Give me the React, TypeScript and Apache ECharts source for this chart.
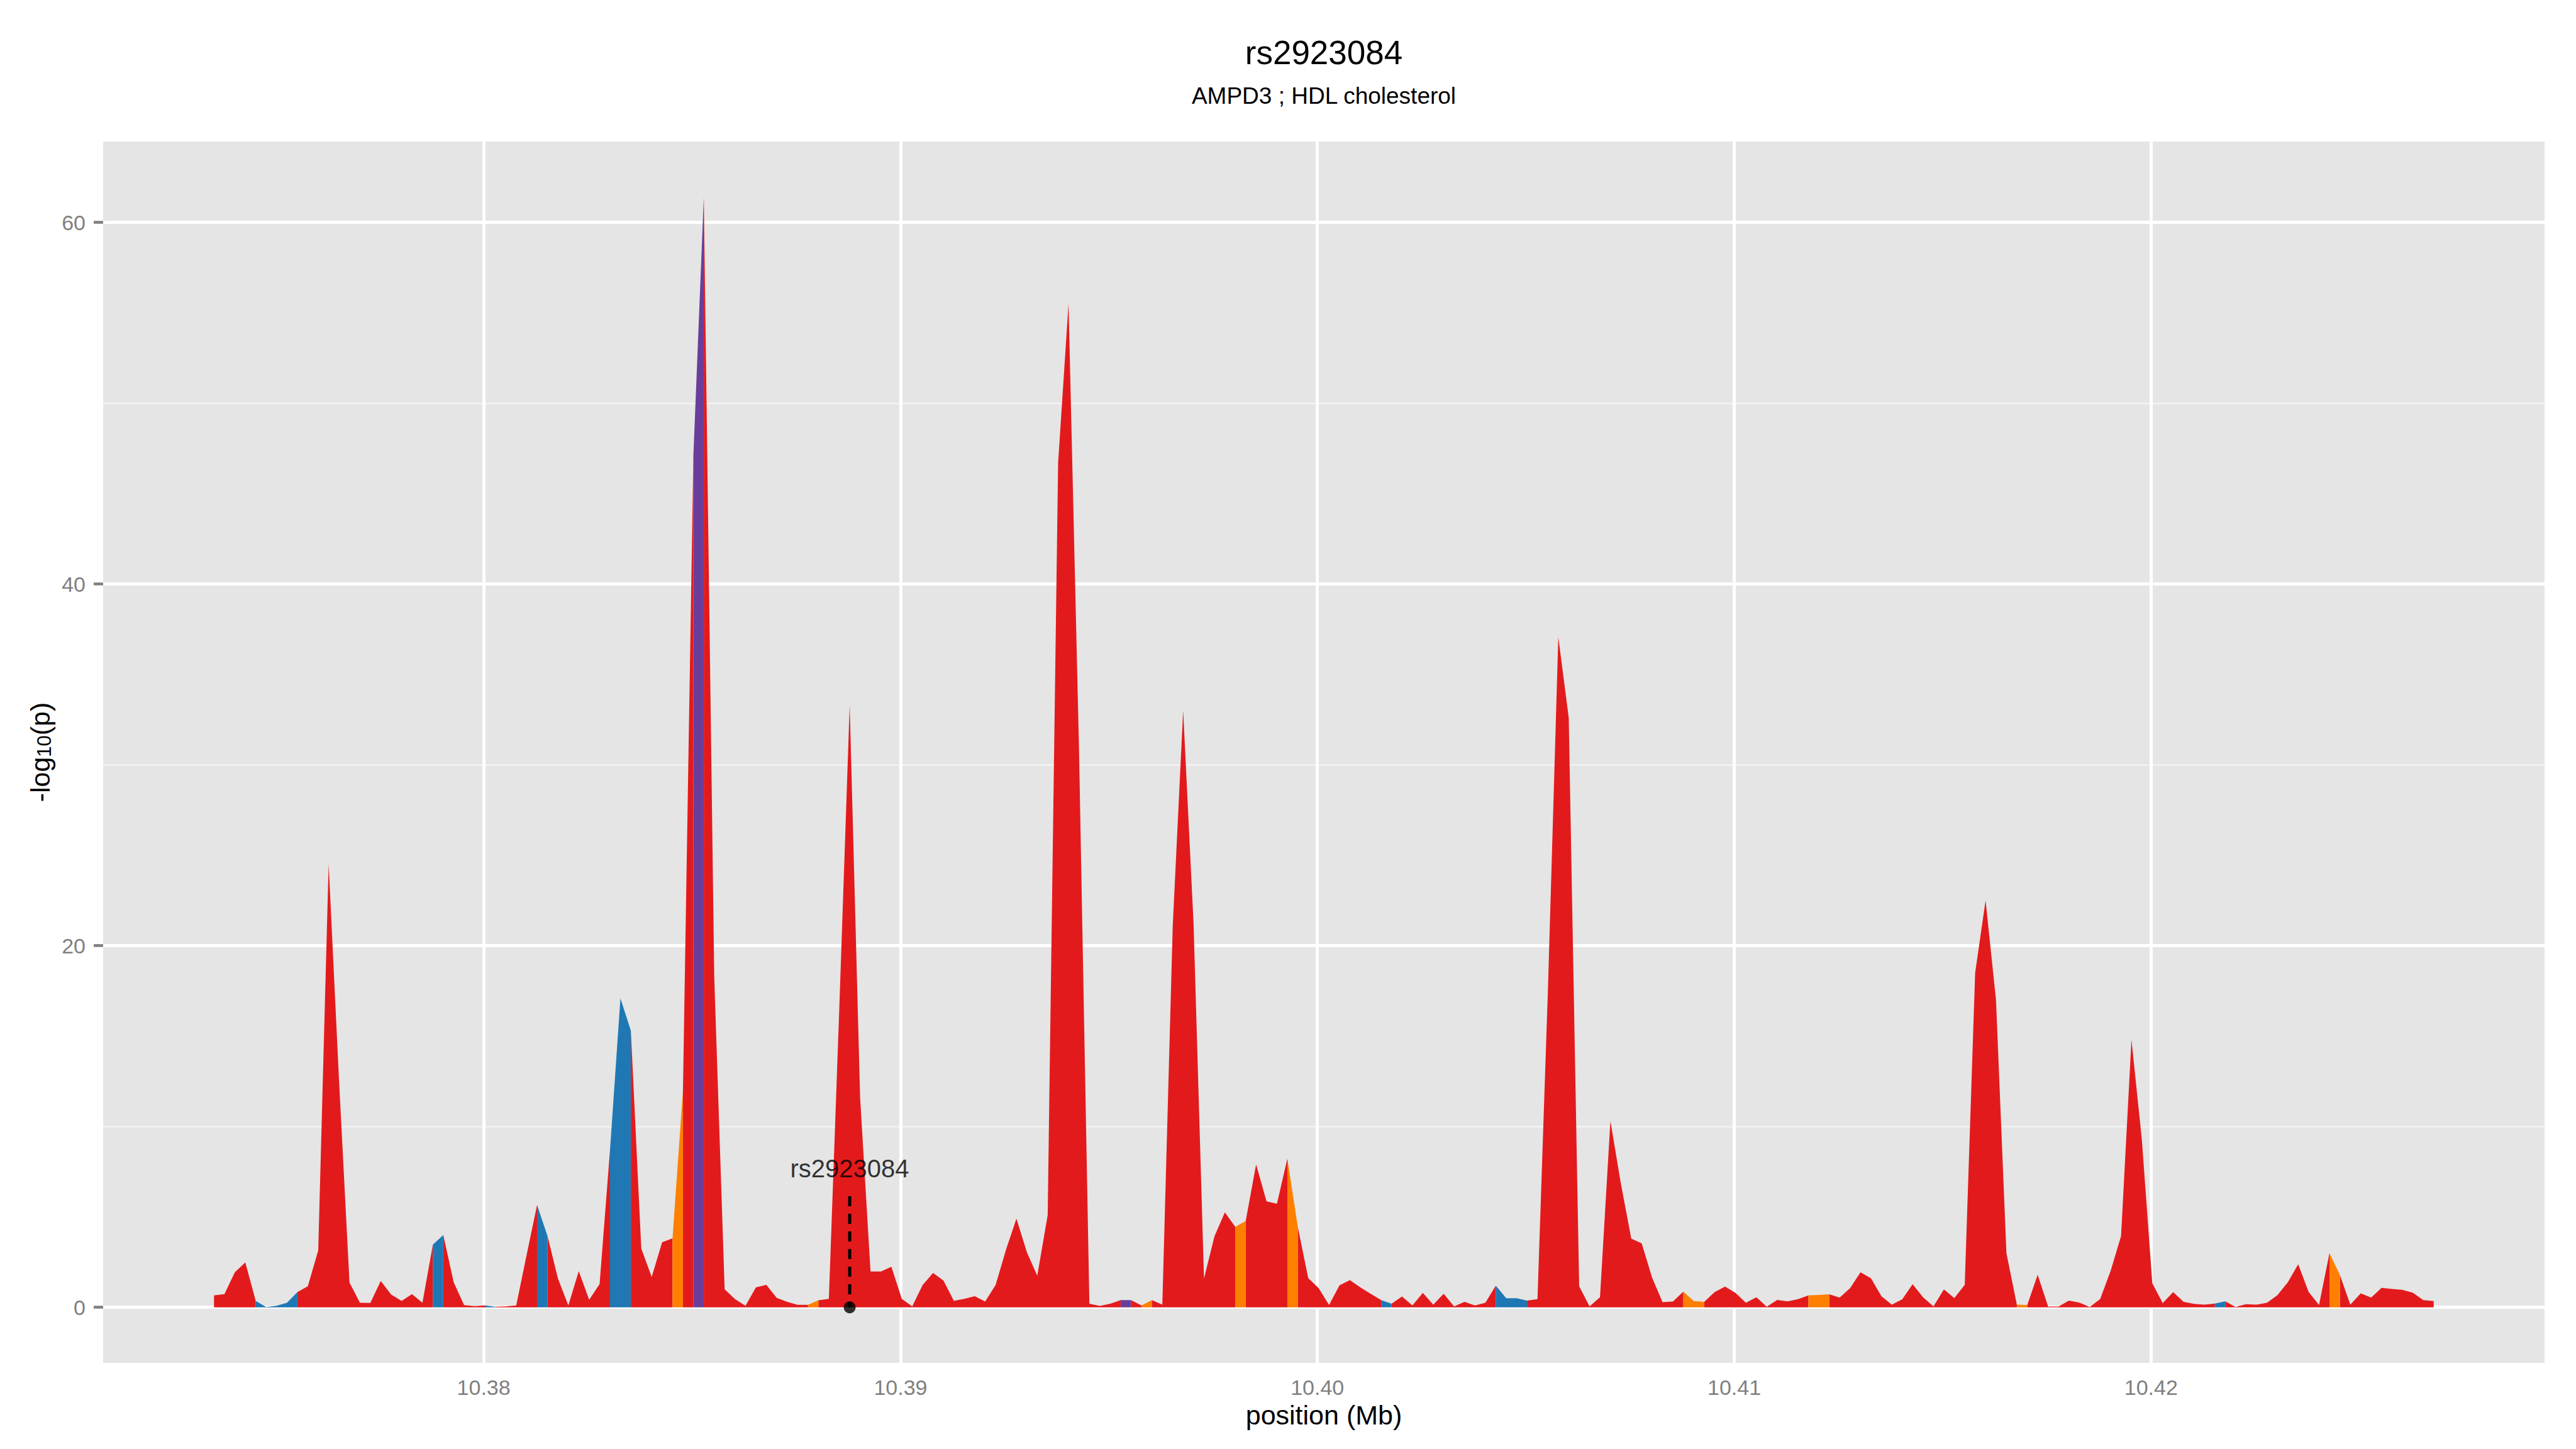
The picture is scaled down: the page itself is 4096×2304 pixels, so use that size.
import React, { useEffect, useRef } from 'react';
import * as echarts from 'echarts';

// ---------- data ----------
const positions = [
  10.37353, 10.37378, 10.37403, 10.37428, 10.37453, 10.37478, 10.37503, 10.37528,
  10.37553, 10.37578, 10.37603, 10.37628, 10.37653, 10.37678, 10.37703, 10.37728,
  10.37753, 10.37778, 10.37803, 10.37828, 10.37853, 10.37878, 10.37903, 10.37928,
  10.37953, 10.37978, 10.38003, 10.38028, 10.38053, 10.38078, 10.38103, 10.38128,
  10.38153, 10.38178, 10.38203, 10.38228, 10.38253, 10.38278, 10.38303, 10.38328,
  10.38353, 10.38378, 10.38403, 10.38428, 10.38453, 10.38478, 10.38503, 10.38528,
  10.38553, 10.38578, 10.38603, 10.38628, 10.38653, 10.38678, 10.38703, 10.38728,
  10.38753, 10.38778, 10.38803, 10.38828, 10.38853, 10.38878, 10.38903, 10.38928,
  10.38953, 10.38978, 10.39003, 10.39028, 10.39053, 10.39078, 10.39103, 10.39128,
  10.39153, 10.39178, 10.39203, 10.39228, 10.39253, 10.39278, 10.39303, 10.39328,
  10.39353, 10.39378, 10.39403, 10.39428, 10.39453, 10.39478, 10.39503, 10.39528,
  10.39553, 10.39578, 10.39603, 10.39628, 10.39653, 10.39678, 10.39703, 10.39728,
  10.39753, 10.39778, 10.39803, 10.39828, 10.39853, 10.39878, 10.39903, 10.39928,
  10.39953, 10.39978, 10.40003, 10.40028, 10.40053, 10.40078, 10.40103, 10.40128,
  10.40153, 10.40178, 10.40203, 10.40228, 10.40253, 10.40278, 10.40303, 10.40328,
  10.40353, 10.40378, 10.40403, 10.40428, 10.40453, 10.40478, 10.40503, 10.40528,
  10.40553, 10.40578, 10.40603, 10.40628, 10.40653, 10.40678, 10.40703, 10.40728,
  10.40753, 10.40778, 10.40803, 10.40828, 10.40853, 10.40878, 10.40903, 10.40928,
  10.40953, 10.40978, 10.41003, 10.41028, 10.41053, 10.41078, 10.41103, 10.41128,
  10.41153, 10.41178, 10.41203, 10.41228, 10.41253, 10.41278, 10.41303, 10.41328,
  10.41353, 10.41378, 10.41403, 10.41428, 10.41453, 10.41478, 10.41503, 10.41528,
  10.41553, 10.41578, 10.41603, 10.41628, 10.41653, 10.41678, 10.41703, 10.41728,
  10.41753, 10.41778, 10.41803, 10.41828, 10.41853, 10.41878, 10.41903, 10.41928,
  10.41953, 10.41978, 10.42003, 10.42028, 10.42053, 10.42078, 10.42103, 10.42128,
  10.42153, 10.42178, 10.42203, 10.42228, 10.42253, 10.42278, 10.42303, 10.42328,
  10.42353, 10.42378, 10.42403, 10.42428, 10.42453, 10.42478, 10.42503, 10.42528,
  10.42553, 10.42578, 10.42603, 10.42628, 10.42653, 10.42678,
];

const negLog10P = [
  0.66, 0.73, 1.94, 2.49, 0.36, 0.02, 0.09, 0.25, 0.84, 1.16,
  3.15, 24.5, 12.5, 1.37, 0.25, 0.24, 1.46, 0.7, 0.36, 0.73,
  0.25, 3.47, 4.0, 1.38, 0.12, 0.07, 0.1, 0.03, 0.05, 0.1,
  2.9, 5.66, 3.95, 1.6, 0.1, 2.0, 0.42, 1.29, 8.7, 17.08,
  15.3, 3.25, 1.68, 3.6, 3.82, 12.0, 47.1, 61.4, 18.3, 1.0,
  0.45, 0.09, 1.1, 1.24, 0.52, 0.3, 0.14, 0.14, 0.39, 0.47,
  16.5, 33.3, 11.6, 1.98, 1.98, 2.24, 0.47, 0.05, 1.23, 1.9,
  1.48, 0.36, 0.47, 0.62, 0.32, 1.23, 3.19, 4.9, 3.05, 1.75,
  5.1, 46.7, 55.5, 31.0, 0.2, 0.08, 0.2, 0.4, 0.4, 0.1,
  0.4, 0.15, 21.1, 33.0, 21.2, 1.59, 3.92, 5.25, 4.45, 4.77,
  7.9, 5.86, 5.73, 8.22, 4.45, 1.62, 1.06, 0.13, 1.22, 1.5,
  1.1, 0.75, 0.4, 0.2, 0.6, 0.1, 0.8, 0.15, 0.75, 0.05,
  0.3, 0.1, 0.25, 1.2, 0.5, 0.5, 0.37, 0.45, 17.5, 37.06,
  32.6, 1.16, 0.05, 0.56, 10.3, 6.85, 3.8, 3.54, 1.64, 0.29,
  0.32, 0.87, 0.35, 0.3, 0.84, 1.15, 0.8, 0.25, 0.56, 0.03,
  0.41, 0.33, 0.45, 0.66, 0.69, 0.72, 0.54, 1.06, 1.94, 1.61,
  0.62, 0.15, 0.44, 1.28, 0.56, 0.05, 0.99, 0.51, 1.24, 18.5,
  22.5, 17.0, 3.0, 0.15, 0.13, 1.8, 0.04, 0.04, 0.37, 0.26,
  0.02, 0.46, 2.02, 3.94, 14.8, 9.25, 1.33, 0.23, 0.84, 0.3,
  0.19, 0.15, 0.21, 0.33, 0.02, 0.17, 0.15, 0.25, 0.67, 1.38,
  2.38, 0.85, 0.13, 3.0, 1.79, 0.15, 0.77, 0.54, 1.08, 1.02,
  0.96, 0.81, 0.4, 0.35,
];

// runs of consecutive points [first, last] whose segments take a non-default colour
const blueRuns = [[4, 8], [21, 22], [26, 27], [31, 32], [38, 40], [112, 113], [123, 126], [192, 193]];
const orangeRuns = [[44, 45], [57, 58], [89, 90], [98, 99], [103, 104], [141, 143], [153, 155], [173, 174], [203, 204]];
const purpleRuns = [[46, 47], [87, 88]];

const xTicks = [10.38, 10.39, 10.4, 10.41, 10.42];
const xMinorGrid = [10.375, 10.385, 10.395, 10.405, 10.415, 10.425];
const yTicks = [0, 20, 40, 60];
const yMinorGrid = [10, 30, 50];
const xRange = [10.37087, 10.42944];
const yRange = [-3.07, 64.47];

const snpName = 'rs2923084';
const snpPos = 10.38878;
const snpLabelY = 7.66;
const snpLineTop = 6.15;

const titleText = 'rs2923084';
const subtitleText = 'AMPD3 ; HDL cholesterol';

// ---------- styling ----------
const FONT = '"Liberation Sans", Arial, Helvetica, sans-serif';
const COLORS: Record<string, string> = {
  red: '#E31A1C',
  blue: '#1F78B4',
  orange: '#FF7F00',
  purple: '#6A3D9A',
};

function segmentColours(): string[] {
  const seg = new Array(positions.length - 1).fill('red');
  const apply = (runs: number[][], c: string) => {
    for (const [a, b] of runs) for (let s = a; s < b; s++) seg[s] = c;
  };
  apply(blueRuns, 'blue');
  apply(orangeRuns, 'orange');
  apply(purpleRuns, 'purple');
  return seg;
}

function buildData(seg: string[], colour: string) {
  const out: any[] = [];
  let s = 0;
  while (s < seg.length) {
    if (seg[s] !== colour) { s++; continue; }
    let e = s;
    while (e < seg.length && seg[e] === colour) e++;
    if (out.length) out.push([positions[s], '-']);
    for (let i = s; i <= e; i++) out.push([positions[i], negLog10P[i]]);
    s = e;
  }
  return out;
}

function buildOption() {
  const seg = segmentColours();
  const major = { color: '#FFFFFF', width: 5, type: 'solid' };
  const minor = { color: '#F2F2F2', width: 2.5, type: 'solid' };
  const gridLines = [
    ...xMinorGrid.map((v) => ({ xAxis: v, lineStyle: minor })),
    ...yMinorGrid.map((v) => ({ yAxis: v, lineStyle: minor })),
    ...xTicks.map((v) => ({ xAxis: v, lineStyle: major })),
    ...yTicks.map((v) => ({ yAxis: v, lineStyle: major })),
  ];

  const areaSeries = ['red', 'blue', 'orange', 'purple'].map((c) => ({
    type: 'line',
    name: c,
    data: buildData(seg, c),
    showSymbol: false,
    symbol: 'none',
    connectNulls: false,
    lineStyle: { width: 0, color: COLORS[c] },
    itemStyle: { color: COLORS[c] },
    areaStyle: { color: COLORS[c], opacity: 1 },
    z: c === 'red' ? 2 : 3,
    silent: true,
  }));

  return {
    animation: false,
    backgroundColor: '#FFFFFF',
    textStyle: { fontFamily: FONT },
    grid: {
      left: 164, right: 50, top: 225, bottom: 137,
      show: true, backgroundColor: '#E5E5E5', borderWidth: 0,
      containLabel: false,
    },
    graphic: [
      {
        type: 'text', x: 2105, y: 83,
        style: { text: titleText, fontSize: 53, fontFamily: FONT, fill: '#000', align: 'center', verticalAlign: 'middle' },
      },
      {
        type: 'text', x: 2105, y: 152,
        style: { text: subtitleText, fontSize: 37, fontFamily: FONT, fill: '#000', align: 'center', verticalAlign: 'middle' },
      },
    ],
    xAxis: {
      type: 'value',
      min: xRange[0], max: xRange[1],
      axisLine: { show: false },
      splitLine: { show: false },
      axisTick: { show: true, length: 15, customValues: xTicks, lineStyle: { color: '#7F7F7F', width: 4.5 } },
      axisLabel: {
        customValues: xTicks, margin: 22, fontSize: 34, color: '#7F7F7F', fontFamily: FONT,
        formatter: (v: number) => v.toFixed(2),
      },
      name: 'position (Mb)',
      nameLocation: 'middle',
      nameGap: 61,
      nameTextStyle: { fontSize: 43, color: '#000', fontFamily: FONT },
    },
    yAxis: {
      type: 'value',
      min: yRange[0], max: yRange[1],
      axisLine: { show: false },
      splitLine: { show: false },
      axisTick: { show: true, length: 15, customValues: yTicks, lineStyle: { color: '#7F7F7F', width: 4.5 } },
      axisLabel: { customValues: yTicks, margin: 28, fontSize: 34, color: '#7F7F7F', fontFamily: FONT },
      name: '{a|-log}{b|10}{a|(p)}',
      nameLocation: 'middle',
      nameGap: 78,
      nameRotate: 90,
      nameTextStyle: {
        color: '#000', fontFamily: FONT, fontSize: 43,
        rich: {
          a: { fontSize: 43, fontFamily: FONT, color: '#000' },
          b: { fontSize: 31, fontFamily: FONT, color: '#000', padding: [14, 0, 0, 0] },
        },
      },
    },
    series: [
      {
        type: 'line',
        name: 'grid',
        data: [],
        symbol: 'none',
        z: 1,
        silent: true,
        markLine: {
          silent: true,
          symbol: ['none', 'none'],
          label: { show: false },
          z: 1,
          animation: false,
          data: gridLines,
        },
      },
      ...areaSeries,
      {
        type: 'line',
        name: 'snpLine',
        data: [[snpPos, snpLineTop], [snpPos, 0]],
        symbol: 'none',
        lineStyle: { color: '#000', width: 5, type: [16, 12] },
        z: 10,
        silent: true,
      },
      {
        type: 'scatter',
        name: 'snpPoint',
        data: [[snpPos, 0]],
        symbol: 'circle',
        symbolSize: 19,
        itemStyle: { color: '#000' },
        z: 11,
        silent: true,
      },
      {
        type: 'scatter',
        name: 'snpLabel',
        data: [[snpPos, snpLabelY]],
        symbolSize: 0.01,
        itemStyle: { color: 'transparent' },
        label: {
          show: true, position: 'inside', formatter: snpName,
          fontSize: 40, color: '#000', fontFamily: FONT,
        },
        z: 12,
        silent: true,
      },
    ],
  };
}

export default function App() {
  const ref = useRef<HTMLDivElement>(null);
  useEffect(() => {
    if (!ref.current) return;
    const chart = echarts.init(ref.current, null, { renderer: 'svg' });
    chart.setOption(buildOption() as any);
    return () => chart.dispose();
  }, []);
  return (
    <div
      ref={ref}
      style={{ position: 'fixed', left: 0, top: 0, width: '4096px', height: '2304px', background: '#fff' }}
    />
  );
}
